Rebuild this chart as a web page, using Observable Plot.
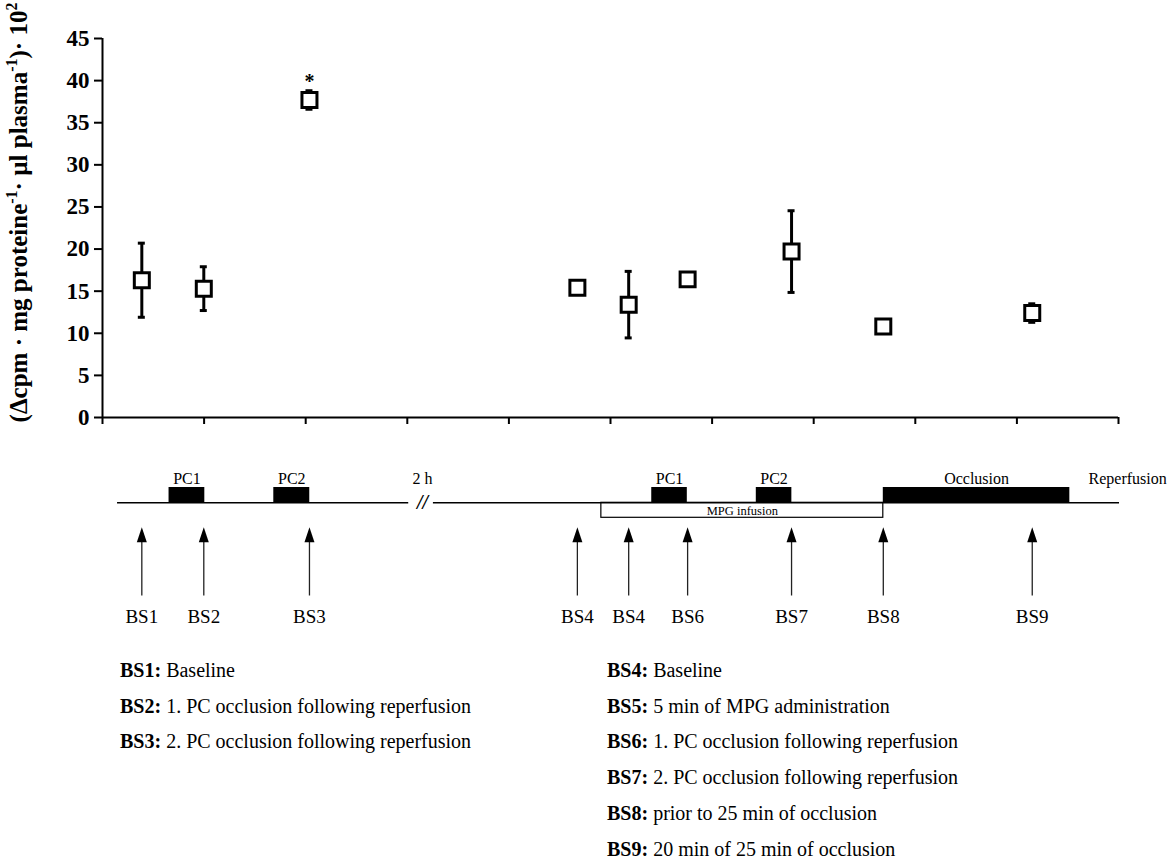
<!DOCTYPE html>
<html><head><meta charset="utf-8">
<script src="https://cdn.jsdelivr.net/npm/d3@7"></script>
<script src="https://cdn.jsdelivr.net/npm/@observablehq/plot@0.6"></script>
<style>
html,body{margin:0;padding:0;background:#fff;}
#root{position:relative;width:1173px;height:860px;overflow:hidden;font-family:"Liberation Serif","Times New Roman",serif;}
#root svg{position:absolute;left:0;}
.legend{position:absolute;font-size:20px;line-height:35.7px;color:#000;white-space:nowrap;}
.legend b{font-weight:bold;}
</style></head><body><div id="root"></div>
<script>
// ---- data ----
const sampleNames = ["BS1","BS2","BS3","BS4","BS5","BS6","BS7","BS8","BS9"];
const arrowLabels = ["BS1","BS2","BS3","BS4","BS4","BS6","BS7","BS8","BS9"];
const sampleX = [0.387, 0.997, 2.037, 4.674, 5.179, 5.759, 6.782, 7.685, 9.151];
const means = [16.3, 15.3, 37.7, 15.4, 13.4, 16.4, 19.7, 10.8, 12.4];
const errors = [4.4, 2.6, 1.1, null, 3.95, null, 4.85, null, 1.1];
const significance = ["", "", "*", "", "", "", "", "", ""];
const yTicks = [0, 5, 10, 15, 20, 25, 30, 35, 40, 45];
const xTicks = [0, 1, 2, 3, 4, 5, 6, 7, 8, 9, 10];
const yLabelParts = [
  {t: "(\u0394cpm \u00b7 mg proteine"}, {t: "-1", sup: true},
  {t: "\u00b7 \u00b5l plasma"}, {t: "-1", sup: true},
  {t: ")\u00b7 10"}, {t: "2", sup: true}
];
// timeline (x in the same units as the chart)
const lineSegments = [[0.148, 3.014], [3.257, 10.01]];
const breakX = 3.15;
const blocks = [
  {label: "PC1", start: 0.655, end: 1.007},
  {label: "PC2", start: 1.686, end: 2.04},
  {label: "PC1", start: 5.406, end: 5.756},
  {label: "PC2", start: 6.435, end: 6.785},
  {label: "Occlusion", start: 7.685, end: 9.521}
];
const infusion = [{label: "MPG infusion", start: 4.91, end: 7.685}];
const notes = [{label: "2 h", x: 3.149}, {label: "Reperfusion", x: 10.09}];
const legendLeft = [
  ["BS1:", "Baseline"],
  ["BS2:", "1. PC occlusion following reperfusion"],
  ["BS3:", "2. PC occlusion following reperfusion"]
];
const legendRight = [
  ["BS4:", "Baseline"],
  ["BS5:", "5 min of MPG administration"],
  ["BS6:", "1. PC occlusion following reperfusion"],
  ["BS7:", "2. PC occlusion following reperfusion"],
  ["BS8:", "prior to 25 min of occlusion"],
  ["BS9:", "20 min of 25 min of occlusion"]
];

// ---- build ----
const FONT = "'Liberation Serif','Times New Roman',serif";
const pts = sampleNames.map((n, i) => ({name: n, x: sampleX[i], mean: means[i], err: errors[i], sig: significance[i]}));
const withErr = pts.filter(d => d.err != null);
const yLabelPlain = yLabelParts.map(p => p.t).join("");

const svg1 = Plot.plot({
  width: 1173, height: 440,
  marginLeft: 102, marginRight: 55, marginTop: 38, marginBottom: 23,
  x: {domain: [0, 10]},
  y: {domain: [0, 45]},
  style: {fontFamily: FONT, background: "transparent", overflow: "visible"},
  marks: [
    Plot.axisY({ticks: yTicks, tickSize: 8, tickPadding: 5, fontSize: 23, fontWeight: "bold", strokeWidth: 2, label: null}),
    Plot.axisX({ticks: xTicks, tickSize: 7, tickFormat: () => "", strokeWidth: 2, label: null}),
    Plot.ruleX([0], {y1: 0, y2: 45, strokeWidth: 2}),
    Plot.ruleY([0], {x1: 0, x2: 10, strokeWidth: 2}),
    Plot.ruleX(withErr, {x: "x", y1: d => d.mean - d.err, y2: d => d.mean + d.err, strokeWidth: 3}),
    Plot.ruleY(withErr, {y: d => d.mean - d.err, x1: "x", x2: "x", insetLeft: -3.5, insetRight: -3.5, strokeWidth: 3}),
    Plot.ruleY(withErr, {y: d => d.mean + d.err, x1: "x", x2: "x", insetLeft: -3.5, insetRight: -3.5, strokeWidth: 3}),
    Plot.dot(pts, {x: "x", y: "mean", symbol: "square", r: 8.46, fill: "white", stroke: "black", strokeWidth: 3}),
    Plot.text(pts.filter(d => d.sig), {x: "x", y: "mean", text: "sig", dy: -18, fontSize: 20, fontWeight: "bold"}),
    Plot.text([yLabelPlain], {frameAnchor: "left", rotate: -90, dx: -84, dy: -15.5, text: d => d, fontSize: 25, fontWeight: "bold", textAnchor: "middle", lineAnchor: "middle"})
  ]
});

// superscripts in the y label
const lab = d3.select(svg1).selectAll("text").filter(function() { return this.textContent === yLabelPlain; });
lab.text(null);
let shifted = false;
yLabelParts.forEach(p => {
  const ts = lab.append("tspan").text(p.t);
  if (p.sup) { ts.attr("font-size", 16).attr("dy", -9.5); shifted = true; }
  else if (shifted) { ts.attr("dy", 9.5); shifted = false; }
});

const arrowHead = {draw(ctx) { ctx.moveTo(0, 0); ctx.lineTo(5, 15); ctx.lineTo(-5, 15); ctx.closePath(); }};

const svg2 = Plot.plot({
  width: 1173, height: 200,
  marginLeft: 102, marginRight: 55, marginTop: 0, marginBottom: 0,
  x: {domain: [0, 10], axis: null},
  y: {domain: [0, 200], range: [0, 200], axis: null},
  style: {fontFamily: FONT, background: "transparent", overflow: "visible"},
  marks: [
    Plot.rect(infusion, {x1: "start", x2: "end", y1: () => 62.3, y2: () => 77.3, fill: "white", stroke: "black", strokeWidth: 1.2}),
    Plot.ruleY(lineSegments, {x1: d => d[0], x2: d => d[1], y: () => 62.3, strokeWidth: 1.5}),
    Plot.rect(blocks, {x1: "start", x2: "end", y1: () => 47, y2: () => 62.3, fill: "black"}),
    Plot.text(blocks, {x: d => (d.start + d.end) / 2, y: () => 38, text: "label", fontSize: 16}),
    Plot.text(notes, {x: "x", y: () => 38, text: "label", fontSize: 16}),
    Plot.text(infusion, {x: d => (d.start + d.end) / 2, y: () => 70.5, text: "label", fontSize: 12.5}),
    Plot.text(["//"], {x: () => breakX, y: () => 62.3, text: d => d, fontSize: 20, fontWeight: "bold", fontStyle: "italic"}),
    Plot.ruleX(sampleX, {x: d => d, y1: () => 155.5, y2: () => 100, strokeWidth: 1.3, stroke: "#222"}),
    Plot.dot(sampleX, {x: d => d, y: () => 86.7, symbol: arrowHead, r: 5, fill: "black", stroke: "none"}),
    Plot.text(arrowLabels, {x: (d, i) => sampleX[i], y: () => 176.7, text: d => d, fontSize: 19})
  ]
});

const root = document.getElementById("root");
svg1.style.top = "0px";
svg2.style.top = "440px";
root.appendChild(svg1);
root.appendChild(svg2);

function addLegend(rows, left, top) {
  const div = document.createElement("div");
  div.className = "legend";
  div.style.left = left + "px";
  div.style.top = top + "px";
  rows.forEach(([k, v]) => {
    const line = document.createElement("div");
    const b = document.createElement("b");
    b.textContent = k;
    line.appendChild(b);
    line.appendChild(document.createTextNode(" " + v));
    div.appendChild(line);
  });
  root.appendChild(div);
}
addLegend(legendLeft, 120, 653);
addLegend(legendRight, 607, 653);
</script>
</body></html>
